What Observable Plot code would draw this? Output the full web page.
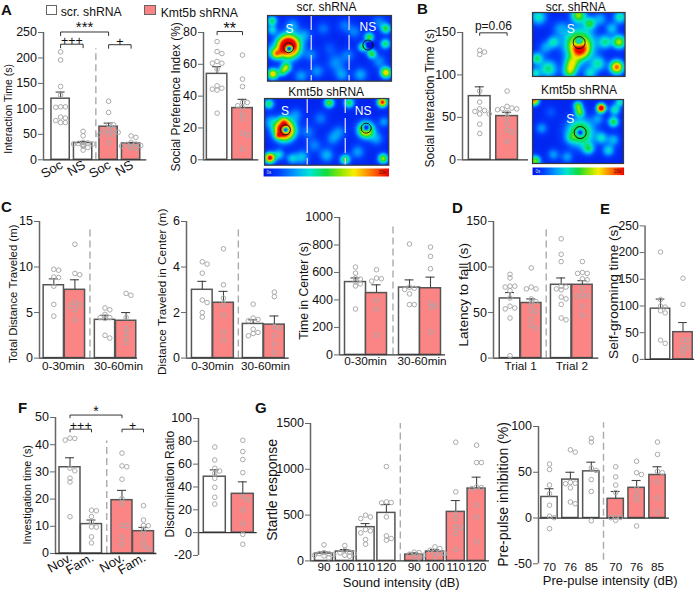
<!DOCTYPE html>
<html><head><meta charset="utf-8">
<script src="https://cdn.jsdelivr.net/npm/d3@7"></script>
<script src="https://cdn.jsdelivr.net/npm/@observablehq/plot@0.6"></script>
<style>
html,body{margin:0;padding:0;background:#fff}
#page{position:relative;width:700px;height:590px;overflow:hidden;font-family:"Liberation Sans",Arial,sans-serif;color:#111}
#page>div{position:absolute}
#page svg{overflow:visible;background:transparent;display:block}
.letter{font-weight:bold;font-size:15px;line-height:15px}
.leg{font-size:12.2px;line-height:14px;white-space:nowrap}
.sw{box-sizing:border-box;border:1.5px solid #666}
</style></head><body><div id="page"></div>
<script>
// ---------- DATA ----------
const a1Names=["Soc","NS","Soc","NS"], a1Means=[120,33,65,32], a1Tops=[133,36,72,34];
const a1Points=[[212,196,144,127,104,104,103,84,82,77,73,73],[56,47,34,33,32,31,31,30,28,27,24,19],[115,93,69,69,60,60,56,54,50,50,49,34],[47,44,34,31,30,28,27,24,24,23]];
const a2Means=[54,32.5], a2Tops=[58.5,38];
const a2Points=[[74.3,68,66.8,61.8,60.7,60.7,57,46.5,45,44.4,43.8,29.3],[65.8,50.7,46,36,36,34,33,28.7,26,16.8,15.7,6.7]];
const bMeans=[75,51.5], bTops=[86,56];
const bPoints=[[129,127,124,81,68,60,58,57,54,54,42,31],[81,63,61,60,60,59,56,50,43,35,33,21.6]];
const groupNames=["0-30min","30-60min"];
const c1Means=[8,7.5,4.2,4.1], c1Tops=[8.7,8.6,4.7,5];
const c1Points=[[9.75,9.65,8.9,8.85,7.9,5.9,4.6],[12.5,9.3,9.15,6.1,5.85,5.75,5.3,4.2],[5.5,5.3,4.8,4.45,4.45,4.35,2.5,2.2],[7.1,6.9,4.45,3.25,2.85,2.25,1.7]];
const c2Means=[3,2.43,1.5,1.47], c2Tops=[3.37,2.93,1.68,1.85];
const c2Points=[[4.23,4.13,3.73,2.55,2.44,2,1.8],[4.8,3.22,2.63,2.37,1.9,1.16,0.8],[2.37,1.76,1.7,1.64,1.27,1.13,1.08,0.98],[2.9,2.7,1.38,1.32,0.98,0.61,0.25]];
const c3Means=[530,450,490,485], c3Tops=[560,510,546,566];
const c3Points=[[639,595,559,551,532,517,502,334],[620,559,554,537,395,334,146],[807,493,485,476,444,366,366],[785,717,627,378,354,346,168]];
const dNames=["Trial 1","Trial 2"], dMeans=[65.5,60.5,80.5,80.5], dTops=[72,65,88,85];
const dPoints=[[92,88,79,79,78,74,66,57,55,54,44,2.6],[99,78,76,76,65,62,59,52,51,43,35.5,33],[131,114,106,79,78,76,75,67,65,59,44,42],[106,94,93,93,87,86,76,69,68,68,57,47]];
const eMeans=[95,51], eTops=[113,69];
const ePoints=[[201,112,100,98,91,87,36,30],[152,103,36,36,25,23,18,10]];
const f1Names=["Nov.","Fam.","Nov.","Fam."], f1Means=[31.7,10.8,19.6,8.2], f1Tops=[35.2,12.3,23.2,9.6];
const f1Points=[[42.4,42.3,41.7,31.4,30.4,27.7,26.3,13.5],[15.9,15.7,13.6,11.6,9.8,9.7,6.1,3.9],[36.9,32.2,31.9,27.3,20.2,18.4,10.3,10.2,5.9,3.4],[17.6,12.3,10.3,10.2,8.6,7.1,4.4,2.8,1.8]];
const f2Means=[49,34], f2Tops=[55,44.5];
const f2Points=[[75,63.6,56.4,54,52,47.6,39.7,31,25],[80.9,71,64,52.6,31.5,29,19.9,8,-1.5,-10.2]];
const g1Names=["90","100","110","120","90","100","110","120"];
const g1Means=[80,102,368,524,69,102,535,790], g1Tops=[98,124,408,615,87,124,659,914];
const g1Points=[[175,91,80,80,69,62,55,33],[167,117,98,87,80,62,51],[499,480,462,342,328,306,233,182],[1030,644,637,633,480,273,244,226],[95,91,73,62,44,33],[153,135,117,98,91,80,44],[1296,754,510,462,371,364,298,124],[1263,1074,1074,808,800,790,608,480,208]];
const g2Names=["70","76","85","70","76","85"];
const g2Means=[23,42,51,21,33,47], g2Tops=[32,50,61,29,41,56];
const g2Points=[[59,53,36,26.5,14,2,0.4,-11.6],[74.5,72,39,38,37.5,33,17.5,15.6],[87,83,54.5,52,42,29,-3],[56,45,36,28,1,0.7,0.4,-2.5],[62,49.5,47.6,32,25,20,-8.7],[83,69.5,51,49.5,39.6,22,7]];
// heat maps: [u, v, strength, spread]
const heatScrA=[[.168,.47,1.55,.06],[.173,.5,-1.5,.021],[.07,.59,.5,.028],[.15,.79,.55,.028],[.12,.86,.35,.024],[.043,.89,.72,.03],[.955,.87,.72,.03],[.037,.08,.42,.028],[.037,.22,.28,.028],[.955,.2,.45,.028],[.95,.43,.42,.028],[.82,.33,.5,.026],[.77,.48,.45,.026],[.84,.58,.48,.026],[.82,.45,-.4,.018],[.2,.15,.2,.04],[.3,.3,.18,.04],[.5,.5,.1,.04],[.55,.72,.18,.05],[.65,.6,.15,.04],[.4,.85,.18,.04],[.6,.9,.2,.04],[.75,.9,.22,.04],[.9,.7,.18,.04],[.7,.25,.16,.04],[.45,.2,.14,.04],[.27,.92,.2,.04],[.03,.55,.18,.04],[.62,.15,.14,.04],[.35,.6,.16,.04],[.9,.1,.16,.04]];
const heatKmtA=[[.16,.475,1.4,.054],[.168,.47,-1.35,.02],[.108,.56,.35,.016],[.155,.33,.3,.026],[.815,.47,.95,.042],[.818,.445,-.95,.02],[.043,.89,1,.028],[.116,.84,.3,.03],[.948,.055,.95,.026],[.52,.065,.52,.028],[.68,.065,.45,.028],[.035,.08,.42,.028],[.954,.9,.58,.028],[.648,.915,.48,.028],[.3,.88,.26,.04],[.22,.9,.26,.03],[.5,.85,.24,.04],[.55,.6,.18,.04],[.6,.5,.16,.04],[.35,.5,.15,.04],[.9,.6,.2,.04],[.75,.8,.2,.04],[.45,.3,.15,.04],[.05,.35,.2,.04],[.25,.25,.18,.04],[.96,.35,.2,.03],[.4,.7,.16,.04]];
const heatScrB=[[.504,.487,.7,.11],[.514,.6,.5,.07],[.504,.46,-.62,.032],[.91,.853,.85,.05],[.935,.46,.6,.05],[.496,.04,.56,.055],[.62,.17,.4,.045],[.065,.07,.34,.06],[.945,.07,.36,.05],[.226,.46,.3,.045],[.425,.8,.5,.055],[.4,.93,.46,.05],[.17,.88,.4,.065],[.047,.72,.4,.045],[.785,.46,.36,.05],[.71,.8,.34,.055],[.856,.25,.25,.045],[.3,.25,.18,.06],[.62,.95,.3,.05],[.03,.95,.3,.04],[.14,.55,.2,.05],[.73,.1,.22,.05]];
const heatKmtB=[[.524,.516,.62,.1],[.524,.516,-.6,.03],[.755,.134,1.2,.032],[.5,.097,.5,.035],[.52,.2,.46,.035],[.02,.016,.85,.035],[.905,.16,.36,.04],[.89,.35,.46,.04],[.96,.04,.34,.035],[.03,.96,.56,.04],[.615,.77,.36,.045],[.835,.796,.3,.045],[.76,.6,.3,.045],[.89,.63,.24,.045],[.1,.45,.2,.045],[.38,.9,.2,.045],[.23,.86,.2,.045],[.72,.3,.18,.045],[.42,.6,.14,.04],[.2,.2,.1,.05]];

// ---------- STYLE ----------
const RED="#fb8484", LINE="#333", AXIS="#666", DOT="#a9a9a9", DASH="#aaa";
const FONT='"Liberation Sans",Arial,sans-serif';
const page=document.getElementById("page");
const jetStops=[0,.12,.25,.37,.5,.62,.72,.85,1];
const jetColors=["#0012e6","#0040ff","#009cff","#00e6d2","#12dc3c","#96e600","#f8ee00","#ff7c00","#ee0000"];
const jet=d3.scaleLinear().domain(jetStops).range(jetColors).clamp(true);

function place(el,left,top){const d=document.createElement("div");d.style.left=left+"px";d.style.top=top+"px";d.appendChild(el);page.appendChild(d);return d;}
function note(text,x,y,cls){const s=document.createElement("span");s.textContent=text;s.className=cls;const d=place(s,x,y);return d;}

// ---------- BAR PANEL ----------
function barPanel(s){
  const ML=52,MR=6,MT=22,MB=34;
  const colors=s.kinds;
  const slot=i=>i+((s.groupAt!=null&&i>=s.groupAt)?s.gap/s.pitch:0);
  const bars=s.means.map((m,i)=>({x:slot(i),m,top:s.tops[i],fill:colors[i]?RED:"#fff"}));
  const half=s.barW/2/s.pitch, cap=4.5/s.pitch;
  const yPx=(s.yb-s.yt)/(s.dom[1]-s.dom[0]);
  // Prism-like symmetric spreading of overlapping points
  const pts=[];
  s.points.forEach((vals,i)=>{
    const placed=[];
    for(const v of vals){
      const py=v*yPx; let off=0;
      for(let k=0;k<10;k++){
        const c=k===0?0:(k%2?1:-1)*Math.ceil(k/2)*4.8;
        if(Math.abs(c)>s.barW/2+1) continue;
        if(placed.every(p=>Math.hypot(p[0]-c,p[1]-py)>=3.6)){off=c;break;}
      }
      placed.push([off,py]);
      pts.push({x:slot(i)+off/s.pitch,v});
    }
  });
  const marks=[];
  marks.push(Plot.rectY(bars,{x1:d=>d.x-half,x2:d=>d.x+half,y1:d=>Math.max(0,s.dom[0]),y2:"m",fill:"fill",stroke:"#555",strokeWidth:1.5}));
  if(s.dash){
    const dx=(slot(s.groupAt-1)+slot(s.groupAt))/2;
    marks.push(Plot.ruleX([dx],{y1:s.dash[0],y2:s.dash[1],stroke:DASH,strokeWidth:1.4,strokeDasharray:"7,4"}));
  }
  marks.push(Plot.ruleX(bars,{x:"x",y1:"m",y2:"top",stroke:"#444",strokeWidth:1.1}));
  marks.push(Plot.ruleY(bars,{x1:d=>d.x-cap,x2:d=>d.x+cap,y:"top",stroke:"#444",strokeWidth:1.1}));
  marks.push(Plot.ruleY([0],{stroke:LINE,strokeWidth:1.3}));
  marks.push(Plot.ruleX([(s.ax-s.first)/s.pitch],{stroke:AXIS,strokeWidth:1.5}));
  marks.push(Plot.dot(pts,{x:"x",y:"v",r:2.3,stroke:DOT,strokeWidth:1,fill:"none"}));
  marks.push(Plot.axisY({ticks:s.ticks,tickSize:5,tickPadding:1.5,fontSize:s.tickFont||12.5,fontFamily:FONT,label:null,stroke:AXIS,color:"#111",tickFormat:d=>String(d)}));
  if(s.names){
    const ats=s.nameAt?s.nameAt.map(a=>a+(a>=(s.groupAt??99)?s.gap/s.pitch:0)):s.names.map((_,i)=>slot(i));
    const m=new Map(ats.map((a,i)=>[a,s.names[i]]));
    marks.push(Plot.axisX({ticks:ats,tickFormat:v=>m.get(v),tickSize:0,tickPadding:s.namePad??4,fontSize:s.nameFont||11.8,fontFamily:FONT,label:null,color:"#111",tickRotate:s.rotate||0,textAnchor:s.rotate?"end":"middle",dx:s.nameDx||0}));
  }
  marks.push(Plot.text([s.yLabel],{text:d=>d,frameAnchor:"left",dx:-(s.ax-s.yLabelX),dy:s.yLabelCy-(s.yt+s.yb)/2,rotate:-90,textAnchor:"middle",fontSize:s.yLabelFont||12,fontFamily:FONT,fill:"#111"}));
  if(s.xLabel) marks.push(Plot.text([s.xLabel],{text:d=>d,frameAnchor:"bottom",dx:s.xLabelCx-(s.ax+s.xr)/2,dy:s.xLabelY-s.yb,textAnchor:"middle",lineAnchor:"middle",fontSize:13,fontFamily:FONT,fill:"#111"}));
  for(const b of (s.brackets||[])){
    const A=slot(b.a),B=slot(b.b);
    marks.push(Plot.line([[A,b.y-b.drop],[A,b.y],[B,b.y],[B,b.y-b.drop]],{stroke:LINE,strokeWidth:1}));
    marks.push(Plot.text([b.text],{text:d=>d,x:()=>(A+B)/2,y:()=>b.y,dy:b.dy,fontSize:b.size,fontFamily:FONT,fill:"#111",lineAnchor:"bottom",textAnchor:"middle"}));
  }
  const svg=Plot.plot({
    width:s.xr-s.ax+ML+MR,height:s.yb-s.yt+MT+MB,
    marginLeft:ML,marginRight:MR,marginTop:MT,marginBottom:MB,
    x:{domain:[(s.ax-s.first)/s.pitch,(s.xr-s.first)/s.pitch],axis:null},
    y:{domain:s.dom,axis:null},
    marks
  });
  place(svg,s.ax-ML,s.yt-MT);
}

// ---------- HEAT PANEL ----------
function heatValue(blobs,aspect){
  return (u,v)=>{let t=0.05;for(const [a,b,w,r] of blobs){const dx=u-a,dy=(v-b)*aspect;t+=w*Math.exp(-(dx*dx+dy*dy)/(2*r*r));}
    return Math.max(0,Math.min(1,t));};
}
function heatPanel(s){
  const ML=2,MR=2,MT=14,MB=2,W=s.xr-s.ax,H=s.yb-s.yt;
  const marks=[Plot.raster({fill:heatValue(s.blobs,H/W),x1:0,x2:1,y1:0,y2:1,pixelSize:1})];
  for(const u of (s.dashes||[])) marks.push(Plot.ruleX([u],{y1:0,y2:1,stroke:"#c9c9ff",strokeWidth:1.4,strokeDasharray:"15,5"}));
  marks.push(Plot.dot(s.rings,{x:d=>d[0],y:d=>d[1],r:s.ringR,stroke:"#111",strokeWidth:1,fill:"none"}));
  marks.push(Plot.text(s.labels,{x:d=>d[0],y:d=>d[1],text:d=>d[2],fill:"#fff",fontSize:s.labelFont||12,fontFamily:FONT}));
  marks.push(Plot.frame({stroke:"#3a3a3a",strokeWidth:1.2}));
  marks.push(Plot.text([s.title],{text:d=>d,frameAnchor:"top",dy:s.titleDy,dx:s.titleDx,fontSize:12,fontFamily:FONT,fill:"#111",lineAnchor:"middle"}));
  const svg=Plot.plot({width:W+ML+MR,height:H+MT+MB,marginLeft:ML,marginRight:MR,marginTop:MT,marginBottom:MB,
    x:{domain:[0,1],axis:null},y:{domain:[1,0],axis:null},
    color:{type:"linear",domain:[0,1],interpolate:t=>jet(t)},marks});
  place(svg,s.ax-ML,s.yt-MT);
}
function colorBar(s){
  const W=s.xr-s.ax,H=s.yb-s.yt;
  const svg=Plot.plot({width:W,height:H,margin:0,x:{domain:[0,1],axis:null},y:{domain:[0,1],axis:null},
    color:{type:"linear",domain:[0,1],interpolate:t=>jet(t)},
    marks:[Plot.raster({fill:(x,y)=>x,x1:0,x2:1,y1:0,y2:1,pixelSize:1}),
      Plot.text(["0s"],{text:d=>d,frameAnchor:"left",dx:3,fontSize:4.5,fill:"#ddd",fontFamily:FONT}),
      Plot.text(["20s"],{text:d=>d,frameAnchor:"right",dx:-3,fontSize:4.5,fill:"#600",fontFamily:FONT})]});
  place(svg,s.ax,s.yt);
}

// ---------- LAYOUT ----------
barPanel({ax:42.7,xr:146,yt:31.7,yb:159,dom:[0,250],ticks:[0,50,100,150,200,250],first:59.8,pitch:22.5,gap:3,groupAt:2,barW:18.3,kinds:[0,0,1,1],means:a1Means,tops:a1Tops,points:a1Points,names:a1Names,rotate:-30,nameFont:13,namePad:4,nameDx:1,dash:[0,218],yLabel:"Interaction Time (s)",yLabelFont:10.5,yLabelX:7.5,yLabelCy:108,
  brackets:[{a:0,b:2,y:251,drop:7,text:"***",size:15,dy:0},{a:0,b:1,y:227,drop:7,text:"+++",size:12.5,dy:1},{a:2,b:3,y:226,drop:7,text:"+",size:12.5,dy:1}]});
barPanel({ax:202.7,xr:258,yt:31.7,yb:159,dom:[0,80],ticks:[0,20,40,60,80],first:216.3,pitch:25.4,barW:20.5,kinds:[0,1],means:a2Means,tops:a2Tops,points:a2Points,yLabel:"Social Preference Index (%)",yLabelX:175.7,yLabelCy:96,
  brackets:[{a:0,b:1,y:80.6,drop:2,text:"**",size:16,dy:2}]});
barPanel({ax:462,xr:528,yt:32,yb:159.3,dom:[0,150],ticks:[0,50,100,150],first:479.2,pitch:27.4,barW:21.7,kinds:[0,1],means:bMeans,tops:bTops,points:bPoints,yLabel:"Social Interaction Time (s)",yLabelX:430,yLabelCy:97.7,
  brackets:[{a:0,b:1,y:149.6,drop:3,text:"p=0.06",size:12,dy:-3}]});
barPanel({ax:39,xr:137,yt:220.7,yb:357.3,dom:[0,15],ticks:[0,5,10,15],first:53.3,pitch:21.1,gap:9,groupAt:2,barW:20.3,kinds:[0,1,0,1],means:c1Means,tops:c1Tops,points:c1Points,names:groupNames,nameAt:[.445,2.64],dash:[0,14.3],yLabel:"Total Distance Traveled (m)",yLabelFont:11.4,yLabelX:12.7,yLabelCy:293});
barPanel({ax:186,xr:288.7,yt:220.7,yb:357.3,dom:[0,6],ticks:[0,2,4,6],first:201.8,pitch:21.2,gap:8.5,groupAt:2,barW:20.7,kinds:[0,1,0,1],means:c2Means,tops:c2Tops,points:c2Points,names:groupNames,nameAt:[.48,2.58],dash:[0,5.76],yLabel:"Distance Traveled in Center (m)",yLabelFont:11.8,yLabelX:161.7,yLabelCy:291});
barPanel({ax:339,xr:445,yt:217.3,yb:354.7,dom:[0,1000],ticks:[0,200,400,600,800,1000],first:355,pitch:21,gap:12,groupAt:2,barW:21,kinds:[0,1,0,1],means:c3Means,tops:c3Tops,points:c3Points,names:groupNames,nameAt:[.476,2.6],namePad:2,dash:[0,958],yLabel:"Time in Center (s)",yLabelFont:12.3,yLabelX:304,yLabelCy:290.7});
barPanel({ax:492.7,xr:598,yt:220.7,yb:357.3,dom:[0,150],ticks:[0,50,100,150],first:509.2,pitch:21.2,gap:8.8,groupAt:2,barW:20.5,kinds:[0,1,0,1],means:dMeans,tops:dTops,points:dPoints,names:dNames,nameAt:[.5,2.5],dash:[0,145],yLabel:"Latency to fall (s)",yLabelFont:13.6,yLabelX:463,yLabelCy:294});
barPanel({ax:646,xr:697,yt:226,yb:363.3,dom:[0,250],ticks:[0,50,100,150,200,250],first:661.9,pitch:23.1,barW:20,kinds:[0,1],means:eMeans,tops:eTops,points:ePoints,yLabel:"Self-grooming time (s)",yLabelFont:14,yLabelX:613.3,yLabelCy:294});
barPanel({ax:55.3,xr:156.7,yt:416.7,yb:552.7,dom:[0,50],ticks:[0,10,20,30,40,50],first:69.8,pitch:21.5,gap:9,groupAt:2,barW:21,kinds:[0,0,1,1],means:f1Means,tops:f1Tops,points:f1Points,names:f1Names,rotate:-30,nameFont:13,namePad:3,nameDx:1,dash:[0,41.4],yLabel:"Investigation time (s)",yLabelFont:10.8,yLabelX:27.7,yLabelCy:494,
  brackets:[{a:0,b:2,y:50.9,drop:1,text:"*",size:14,dy:1},{a:0,b:1,y:45.7,drop:1,text:"+++",size:12.5,dy:1},{a:2,b:3,y:45.7,drop:1,text:"+",size:12.5,dy:1}]});
barPanel({ax:198,xr:256.7,yt:418.3,yb:555.3,dom:[-20,100],ticks:[-20,0,20,40,60,80,100],first:214.3,pitch:28,barW:22,kinds:[0,1],means:f2Means,tops:f2Tops,points:f2Points,yLabel:"Discrimination Ratio",yLabelX:169.3,yLabelCy:484});
barPanel({ax:310,xr:489,yt:423.3,yb:560.7,dom:[0,1500],ticks:[0,500,1000,1500],first:323.5,pitch:20.8,gap:7,groupAt:4,barW:18,kinds:[0,0,0,0,1,1,1,1],means:g1Means,tops:g1Tops,points:g1Points,names:g1Names,namePad:2,dash:[0,1500],yLabel:"Startle response",yLabelFont:14,yLabelX:272.3,yLabelCy:489.7,xLabel:"Sound intensity (dB)",xLabelCx:400.7,xLabelY:582.7});
barPanel({ax:538.3,xr:669.3,yt:426,yb:563.3,dom:[-50,100],ticks:[-50,0,50,100],first:549.3,pitch:20.9,gap:3.5,groupAt:3,barW:16.3,kinds:[0,0,0,1,1,1],means:g2Means,tops:g2Tops,points:g2Points,names:g2Names,namePad:-1,dash:[-46,104],yLabel:"Pre-pulse inhibition (%)",yLabelFont:14,yLabelX:503.3,yLabelCy:494,xLabel:"Pre-pulse intensity (dB)",xLabelCx:610,xLabelY:580.7});

heatPanel({ax:266.7,xr:390.7,yt:15.3,yb:81,blobs:heatScrA,dashes:[.353,.658],rings:[[.17,.49],[.81,.45]],ringR:5,labels:[[.178,.21,"S"],[.81,.17,"NS"]],title:"scr. shRNA",titleDy:-8,titleDx:-3});
heatPanel({ax:264,xr:388.3,yt:98.3,yb:165,blobs:heatKmtA,dashes:[.344,.65],rings:[[.168,.47],[.818,.445]],ringR:5,labels:[[.164,.19,"S"],[.793,.197,"NS"]],title:"Kmt5b shRNA",titleDy:-6.5,titleDx:-0.5});
heatPanel({ax:531.7,xr:624.3,yt:12,yb:76,blobs:heatScrB,rings:[[.504,.47]],ringR:6,labels:[[.414,.26,"S"]],title:"scr. shRNA",titleDy:-5.5,titleDx:-3});
heatPanel({ax:531.7,xr:622.7,yt:99.3,yb:163.3,blobs:heatKmtB,rings:[[.524,.516]],ringR:6,labels:[[.414,.31,"S"]],title:"Kmt5b shRNA",titleDy:-9,titleDx:1});
colorBar({ax:262.7,xr:388.3,yt:167.7,yb:175.7});
colorBar({ax:531.7,xr:623.3,yt:166.7,yb:174.3});

// ---------- LEGEND & PANEL LETTERS ----------
function swatch(x,y,w,h,fill){const e=document.createElement("div");e.className="sw";e.style.cssText+=`width:${w}px;height:${h}px;background:${fill}`;place(e,x,y);}
swatch(46,5,11,10,"#fff"); note("scr. shRNA",60.7,2,"leg");
swatch(144,5,12,10,RED); note("Kmt5b shRNA",160.7,3,"leg");
[["A",1,1],["B",417,0],["C",1,198],["D",452,199],["E",600,200],["F",18,399],["G",255,399]].forEach(([t,x,y])=>note(t,x,y,"letter"));
</script></body></html>
